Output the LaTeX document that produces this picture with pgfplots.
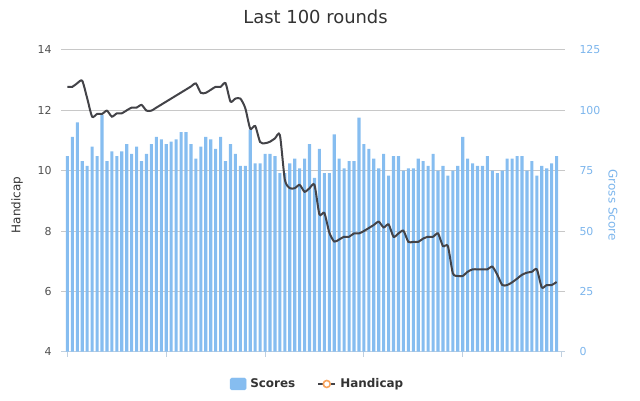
\documentclass[border=0pt]{standalone}
\usepackage{fontspec}
\setmainfont{DejaVu Sans}
\usepackage{pgfplots}
\pgfplotsset{compat=1.18}
\definecolor{barblue}{RGB}{134,189,240}
\definecolor{linegray}{RGB}{67,67,72}
\definecolor{gridgray}{RGB}{200,200,200}
\definecolor{axisblue}{RGB}{192,208,224}
\definecolor{textdark}{RGB}{51,51,51}
\definecolor{labgray}{RGB}{80,80,80}
\definecolor{rightblue}{RGB}{124,181,236}
\definecolor{markorange}{RGB}{247,163,92}
\begin{document}
\begin{tikzpicture}
\path[use as bounding box] (-61bp,-49.3bp) rectangle (579bp,351.7bp);
\begin{axis}[
  at={(0,0)}, anchor=south west,
  scale only axis, width=504bp, height=301.7bp,
  clip mode=individual,
  xmin=-1.3, xmax=100.7, ymin=0, ymax=125,
  axis y line*=right, axis x line*=bottom,
  ytick={0,25,...,125}, xtick={0,20,...,100}, xticklabels={},
  ymajorgrids, grid style={draw=gridgray, line width=1bp},
  y axis line style={draw=none},
  x axis line style={draw=axisblue, line width=1bp},
  xtick style={draw=axisblue, line width=1bp},
  ytick style={draw=none},
  tick align=outside, major tick length=5bp,
  /pgf/number format/assume math mode=true,
  yticklabel style={font=\fontsize{11}{13}\selectfont, text=rightblue, anchor=west, xshift=6bp},
]
\addplot[ybar, bar width=3.1bp, fill=barblue, draw=none] coordinates {
(0,81) (1,89) (2,95) (3,79) (4,77) (5,85) (6,81) (7,98) (8,79) (9,83)
(10,81) (11,83) (12,86) (13,82) (14,85) (15,79) (16,82) (17,86) (18,89) (19,88)
(20,86) (21,87) (22,88) (23,91) (24,91) (25,86) (26,80) (27,85) (28,89) (29,88)
(30,84) (31,89) (32,79) (33,86) (34,82) (35,77) (36,77) (37,92) (38,78) (39,78)
(40,82) (41,82) (42,81) (43,74) (44,74) (45,78) (46,80) (47,76) (48,80) (49,86)
(50,72) (51,84) (52,74) (53,74) (54,90) (55,80) (56,76) (57,79) (58,79) (59,97)
(60,86) (61,84) (62,80) (63,76) (64,82) (65,73) (66,81) (67,81) (68,75) (69,76)
(70,76) (71,80) (72,79) (73,77) (74,82) (75,75) (76,77) (77,73) (78,75) (79,77)
(80,89) (81,80) (82,78) (83,77) (84,77) (85,81) (86,75) (87,74) (88,75) (89,80)
(90,80) (91,81) (92,81) (93,75) (94,79) (95,73) (96,77) (97,76) (98,78) (99,81)
};
\node[rotate=-90, font=\fontsize{12}{14}\selectfont, text=rightblue] at (axis description cs:1.095,0.486) {Gross Score};
\end{axis}
\begin{axis}[
  at={(0,0)}, anchor=south west,
  scale only axis, width=504bp, height=301.7bp,
  clip mode=individual,
  xmin=-1.3, xmax=100.7, ymin=4, ymax=14,
  axis y line*=left, hide x axis,
  y axis line style={draw=none},
  ytick={4,6,...,14}, ytick style={draw=none},
  /pgf/number format/assume math mode=true,
  yticklabel style={font=\fontsize{11}{13}\selectfont, text=labgray, anchor=east, xshift=-6bp},
  title={Last 100 rounds},
  title style={at={(axis description cs:0.505,1)}, anchor=base, yshift=21bp, font=\fontsize{18}{22}\selectfont, text=textdark},
  legend style={at={(axis description cs:0.509,-0.107)}, anchor=center, draw=none, fill=none,
    font=\bfseries\fontsize{12}{14}\selectfont, text=textdark,
    /tikz/every odd column/.append style={column sep=2bp},
    /tikz/every even column/.append style={column sep=20bp}},
  legend columns=2,
]
\addlegendimage{legend image code/.code={\fill[barblue, rounded corners=1.5bp] (0bp,-6bp) rectangle (16bp,6bp);}}
\addlegendentry{Scores}
\addlegendimage{legend image code/.code={\draw[linegray, line width=2bp] (0bp,0bp) -- (17bp,0bp); \draw[markorange, fill=white, line width=1.6bp] (8.5bp,0bp) circle (3.5bp);}}
\addlegendentry{Handicap}
\addplot[linegray, line width=2bp, smooth, tension=0.4, forget plot] coordinates {
(0,12.78) (1,12.78) (2,12.90) (3,12.98) (4,12.40) (5,11.79) (6,11.88) (7,11.88) (8,11.99) (9,11.79)
(10,11.90) (11,11.90) (12,12.00) (13,12.09) (14,12.09) (15,12.18) (16,11.99) (17,11.99) (18,12.09) (19,12.19)
(20,12.29) (21,12.39) (22,12.49) (23,12.59) (24,12.69) (25,12.79) (26,12.89) (27,12.58) (28,12.58) (29,12.68)
(30,12.78) (31,12.78) (32,12.90) (33,12.29) (34,12.39) (35,12.39) (36,12.07) (37,11.39) (38,11.48) (39,10.95)
(40,10.91) (41,10.96) (42,11.07) (43,11.18) (44,9.70) (45,9.42) (46,9.42) (47,9.53) (48,9.30) (49,9.42)
(50,9.53) (51,8.55) (52,8.60) (53,7.95) (54,7.65) (55,7.72) (56,7.81) (57,7.81) (58,7.92) (59,7.92)
(60,8.00) (61,8.10) (62,8.20) (63,8.31) (64,8.12) (65,8.22) (66,7.81) (67,7.92) (68,8.01) (69,7.64)
(70,7.64) (71,7.64) (72,7.75) (73,7.81) (74,7.81) (75,7.92) (76,7.50) (77,7.50) (78,6.60) (79,6.51)
(80,6.51) (81,6.65) (82,6.73) (83,6.73) (84,6.73) (85,6.73) (86,6.82) (87,6.55) (88,6.21) (89,6.21)
(90,6.30) (91,6.42) (92,6.55) (93,6.62) (94,6.65) (95,6.73) (96,6.13) (97,6.21) (98,6.21) (99,6.31)
};
\node[rotate=90, font=\fontsize{12}{14}\selectfont, text=textdark] at (axis description cs:-0.087,0.486) {Handicap};
\end{axis}
\end{tikzpicture}
\end{document}
